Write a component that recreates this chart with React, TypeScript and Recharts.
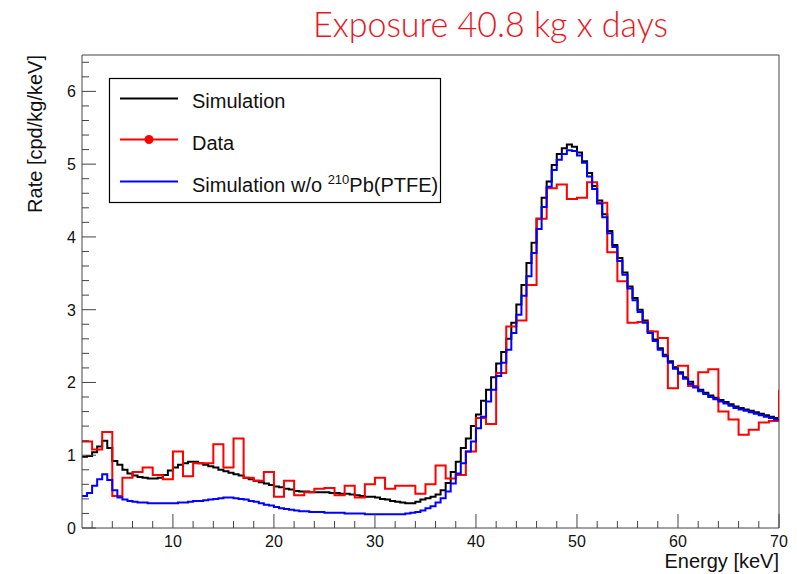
import { ComposedChart, Line, XAxis, YAxis, ReferenceLine } from "recharts";

// histogram range [keV]
const xMin = 1;
const xMax = 70;
const simBinWidth = 0.5;
const dataBinWidth = 1;

// simulation, 0.5 keV bins starting at 1 keV (one row = 5 keV)
const simulation = [
  0.98, 0.99, 1.04, 1.12, 1.2, 1.1, 0.92, 0.87, 0.8, 0.75,
  0.72, 0.7, 0.69, 0.68, 0.68, 0.69, 0.73, 0.79, 0.83, 0.87,
  0.89, 0.91, 0.91, 0.89, 0.87, 0.85, 0.83, 0.8, 0.78, 0.76,
  0.74, 0.72, 0.69, 0.67, 0.65, 0.63, 0.61, 0.59, 0.57, 0.56,
  0.54, 0.53, 0.51, 0.5, 0.5, 0.49, 0.49, 0.49, 0.49, 0.48,
  0.48, 0.47, 0.47, 0.46, 0.45, 0.44, 0.43, 0.43, 0.42, 0.4,
  0.39, 0.37, 0.36, 0.35, 0.34, 0.34, 0.36, 0.39, 0.41, 0.43,
  0.46, 0.52, 0.62, 0.77, 0.91, 1.1, 1.23, 1.4, 1.56, 1.75,
  1.9, 2.07, 2.26, 2.42, 2.6, 2.82, 3.07, 3.34, 3.64, 3.92,
  4.25, 4.54, 4.76, 4.99, 5.14, 5.22, 5.27, 5.24, 5.16, 5.04,
  4.88, 4.7, 4.5, 4.31, 4.08, 3.89, 3.71, 3.51, 3.32, 3.16,
  3.0, 2.85, 2.7, 2.59, 2.47, 2.38, 2.29, 2.21, 2.14, 2.07,
  2.01, 1.95, 1.9, 1.86, 1.82, 1.79, 1.76, 1.73, 1.7, 1.67,
  1.65, 1.63, 1.61, 1.59, 1.57, 1.55, 1.53, 1.51,
];

// simulation without 210Pb(PTFE), same binning
const simulationNoPb = [
  0.44, 0.48, 0.58, 0.67, 0.74, 0.66, 0.52, 0.42, 0.39, 0.37,
  0.36, 0.35, 0.35, 0.34, 0.34, 0.34, 0.34, 0.34, 0.34, 0.35,
  0.35, 0.36, 0.37, 0.37, 0.38, 0.39, 0.4, 0.41, 0.42, 0.42,
  0.41, 0.4, 0.39, 0.37, 0.36, 0.34, 0.32, 0.31, 0.29, 0.27,
  0.26, 0.25, 0.24, 0.23, 0.23, 0.22, 0.22, 0.22, 0.21, 0.21,
  0.21, 0.21, 0.2, 0.2, 0.2, 0.2, 0.19, 0.19, 0.19, 0.19,
  0.19, 0.19, 0.19, 0.19, 0.2, 0.21, 0.22, 0.24, 0.27, 0.3,
  0.35, 0.41, 0.5, 0.61, 0.75, 0.89, 1.05, 1.19, 1.37, 1.53,
  1.74, 1.9, 2.09, 2.27, 2.45, 2.68, 2.93, 3.19, 3.46, 3.78,
  4.11, 4.41, 4.69, 4.92, 5.06, 5.14, 5.19, 5.18, 5.12, 5.02,
  4.83, 4.66, 4.46, 4.27, 4.05, 3.86, 3.67, 3.48, 3.29, 3.13,
  2.97, 2.82, 2.68, 2.57, 2.45, 2.36, 2.27, 2.19, 2.12, 2.05,
  1.98, 1.93, 1.88, 1.84, 1.8, 1.77, 1.74, 1.71, 1.68, 1.65,
  1.63, 1.61, 1.59, 1.57, 1.55, 1.53, 1.51, 1.49,
];

// measured data, 1 keV bins starting at 1 keV
const measured = [
  1.19, 1.08, 1.32, 0.44, 0.69, 0.77, 0.83, 0.73, 0.67, 1.05,
  0.71, 0.89, 0.89, 1.15, 0.83, 1.23, 0.69, 0.65, 0.77, 0.43,
  0.65, 0.45, 0.49, 0.54, 0.55, 0.45, 0.58, 0.42, 0.6, 0.69,
  0.54, 0.58, 0.58, 0.47, 0.6, 0.86, 0.68, 0.73, 1.05, 1.51,
  1.43, 2.13, 2.77, 2.85, 3.34, 4.25, 4.67, 4.72, 4.52, 4.54,
  4.75, 4.47, 3.79, 3.39, 2.82, 2.83, 2.7, 2.61, 1.92, 2.23,
  1.95, 2.14, 2.18, 1.6, 1.49, 1.28, 1.35, 1.45, 1.47,
];
const measuredOverflow = 1.9;

const xTicks = [2, 4, 6, 8, 10, 12, 14, 16, 18, 20, 22, 24, 26, 28, 30, 32, 34, 36, 38, 40, 42, 44, 46, 48, 50, 52, 54, 56, 58, 60, 62, 64, 66, 68, 70];
const xLabels = [10, 20, 30, 40, 50, 60, 70];
const yTicks = [0, 0.2, 0.4, 0.6, 0.8, 1, 1.2, 1.4, 1.6, 1.8, 2, 2.2, 2.4, 2.6, 2.8, 3, 3.2, 3.4, 3.6, 3.8, 4, 4.2, 4.4, 4.6, 4.8, 5, 5.2, 5.4, 5.6, 5.8, 6, 6.2, 6.4];
const yLabels = [0, 1, 2, 3, 4, 5, 6];

const toSteps = (values: number[], width: number, last: number) => [
  ...values.map((y, i) => ({ x: xMin + i * width, y })),
  { x: xMax, y: last },
];

const simSteps = toSteps(simulation, simBinWidth, simulation[simulation.length - 1]);
const noPbSteps = toSteps(simulationNoPb, simBinWidth, simulationNoPb[simulationNoPb.length - 1]);
const dataSteps = toSteps(measured, dataBinWidth, measuredOverflow);

const font = '"Liberation Sans", Arial, sans-serif';
const frame = "#444";

function XTick(props: any) {
  const { x, y, payload } = props;
  const major = xLabels.includes(payload.value);
  return (
    <g>
      <line x1={x} x2={x} y1={y} y2={y - (major ? 14 : 7)} stroke={frame} />
      {major && (
        <text x={x} y={y + 19} textAnchor="middle" fontSize={16} fontFamily={font} fill="#111">
          {payload.value}
        </text>
      )}
    </g>
  );
}

function YTick(props: any) {
  const { x, y, payload } = props;
  const major = yLabels.some((v) => Math.abs(v - payload.value) < 1e-6);
  return (
    <g>
      <line x1={x} x2={x + (major ? 14 : 7)} y1={y} y2={y} stroke={frame} />
      {major && (
        <text x={x - 6} y={y + 6} textAnchor="end" fontSize={16} fontFamily={font} fill="#111">
          {Math.round(payload.value)}
        </text>
      )}
    </g>
  );
}

export default function App() {
  return (
    <div style={{ position: "absolute", left: 0, top: 0, width: 797, height: 574, background: "#fff" }}>
      <ComposedChart width={797} height={574} margin={{ top: 55, right: 18, bottom: 6, left: 22 }}>
        <XAxis
          type="number"
          dataKey="x"
          domain={[xMin, xMax]}
          ticks={xTicks}
          interval={0}
          height={40}
          tickSize={0}
          tickMargin={0}
          tickLine={false}
          axisLine={{ stroke: frame }}
          tick={<XTick />}
          allowDataOverflow
        />
        <YAxis
          type="number"
          domain={[0, 6.5]}
          ticks={yTicks}
          interval={0}
          width={60}
          tickSize={0}
          tickMargin={0}
          tickLine={false}
          axisLine={{ stroke: frame }}
          tick={<YTick />}
          allowDataOverflow
        />
        <ReferenceLine y={6.5} stroke={frame} />
        <ReferenceLine x={xMax} stroke={frame} />
        <Line data={simSteps} dataKey="y" type="stepAfter" stroke="#000" strokeWidth={2} dot={false} isAnimationActive={false} />
        <Line data={dataSteps} dataKey="y" type="stepAfter" stroke="#ff0000" strokeWidth={2} dot={false} isAnimationActive={false} />
        <Line data={noPbSteps} dataKey="y" type="stepAfter" stroke="#0000ff" strokeWidth={2} dot={false} isAnimationActive={false} />
      </ComposedChart>

      <svg width={797} height={574} style={{ position: "absolute", left: 0, top: 0, pointerEvents: "none" }}>
        <text x={313} y={37} fontSize={35} fontWeight={300} fontFamily="Lato, sans-serif" fill="#e8161e" textLength={355} lengthAdjust="spacingAndGlyphs">
          Exposure 40.8 kg x days
        </text>
        <text x={42} y={55} transform="rotate(-90 42 55)" textAnchor="end" fontSize={20} fontFamily={font} fill="#111">
          Rate [cpd/kg/keV]
        </text>
        <text x={779} y={568} textAnchor="end" fontSize={20} fontFamily={font} fill="#111">
          Energy [keV]
        </text>

        <rect x={109.5} y={78.5} width={331} height={124} fill="#fff" stroke="#000" strokeWidth={1.2} />
        <line x1={120} x2={178} y1={98.5} y2={98.5} stroke="#000" strokeWidth={2} />
        <text x={192} y={108} fontSize={20} fontFamily={font} fill="#111">Simulation</text>
        <line x1={120} x2={178} y1={139.5} y2={139.5} stroke="#ff0000" strokeWidth={2} />
        <circle cx={149} cy={139.5} r={4.5} fill="#ff0000" />
        <text x={192} y={150} fontSize={20} fontFamily={font} fill="#111">Data</text>
        <line x1={120} x2={178} y1={181.5} y2={181.5} stroke="#0000ff" strokeWidth={2} />
        <text x={192} y={191.5} fontSize={20} fontFamily={font} fill="#111">
          Simulation w/o <tspan dy={-8} fontSize={13}>210</tspan>
          <tspan dy={8}>Pb(PTFE)</tspan>
        </text>
      </svg>
    </div>
  );
}
